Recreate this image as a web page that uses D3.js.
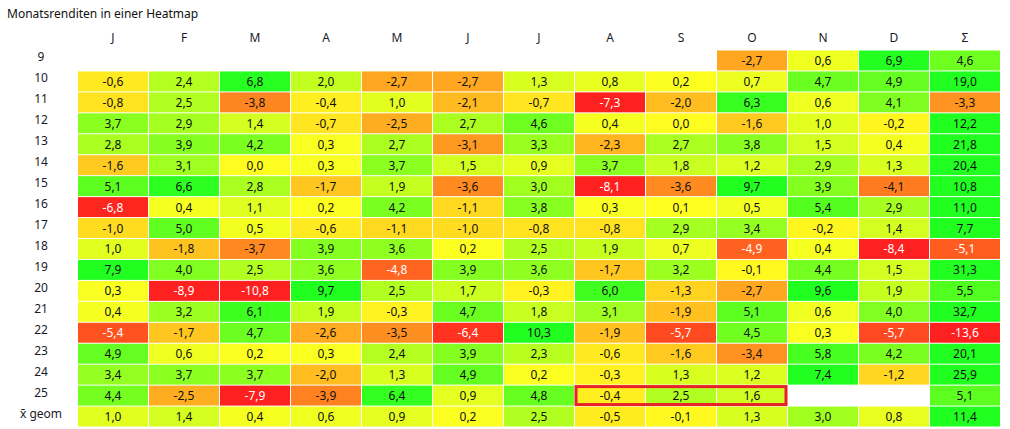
<!DOCTYPE html>
<html>
<head>
  <meta charset="utf-8">
  <title>Monatsrenditen in einer Heatmap</title>
  <script src="https://d3js.org/d3.v7.min.js"></script>
  <style>
    body { margin: 0; background: #fff; }
    svg { font-family: "Segoe UI", "Noto Sans", sans-serif; font-size: 12px; }
    .title { fill: #111; }
    .head, .rowlab { fill: #1a1a2a; text-anchor: middle; }
    .val { text-anchor: middle; }
  </style>
</head>
<body>
  <svg width="1010" height="429"></svg>
  <script>
    const months = ["J", "F", "M", "A", "M", "J", "J", "A", "S", "O", "N", "D", "Σ"];
    const years = ["9", "10", "11", "12", "13", "14", "15", "16", "17", "18", "19", "20", "21", "22", "23", "24", "25"];

    // monthly returns per year, J..D (null = no value)
    const monthly = [
      [null, null, null, null, null, null, null, null, null, -2.7, 0.6, 6.9],
      [-0.6, 2.4, 6.8, 2.0, -2.7, -2.7, 1.3, 0.8, 0.2, 0.7, 4.7, 4.9],
      [-0.8, 2.5, -3.8, -0.4, 1.0, -2.1, -0.7, -7.3, -2.0, 6.3, 0.6, 4.1],
      [3.7, 2.9, 1.4, -0.7, -2.5, 2.7, 4.6, 0.4, 0.0, -1.6, 1.0, -0.2],
      [2.8, 3.9, 4.2, 0.3, 2.7, -3.1, 3.3, -2.3, 2.7, 3.8, 1.5, 0.4],
      [-1.6, 3.1, 0.0, 0.3, 3.7, 1.5, 0.9, 3.7, 1.8, 1.2, 2.9, 1.3],
      [5.1, 6.6, 2.8, -1.7, 1.9, -3.6, 3.0, -8.1, -3.6, 9.7, 3.9, -4.1],
      [-6.8, 0.4, 1.1, 0.2, 4.2, -1.1, 3.8, 0.3, 0.1, 0.5, 5.4, 2.9],
      [-1.0, 5.0, 0.5, -0.6, -1.1, -1.0, -0.8, -0.8, 2.9, 3.4, -0.2, 1.4],
      [1.0, -1.8, -3.7, 3.9, 3.6, 0.2, 2.5, 1.9, 0.7, -4.9, 0.4, -8.4],
      [7.9, 4.0, 2.5, 3.6, -4.8, 3.9, 3.6, -1.7, 3.2, -0.1, 4.4, 1.5],
      [0.3, -8.9, -10.8, 9.7, 2.5, 1.7, -0.3, 6.0, -1.3, -2.7, 9.6, 1.9],
      [0.4, 3.2, 6.1, 1.9, -0.3, 4.7, 1.8, 3.1, -1.9, 5.1, 0.6, 4.0],
      [-5.4, -1.7, 4.7, -2.6, -3.5, -6.4, 10.3, -1.9, -5.7, 4.5, 0.3, -5.7],
      [4.9, 0.6, 0.2, 0.3, 2.4, 3.9, 2.3, -0.6, -1.6, -3.4, 5.8, 4.2],
      [3.4, 3.7, 3.7, -2.0, 1.3, 4.9, 0.2, -0.3, 1.3, 1.2, 7.4, -1.2],
      [4.4, -2.5, -7.9, -3.9, 6.4, 0.9, 4.8, -0.4, 2.5, 1.6, null, null]
    ];
    const yearSum = [4.6, 19.0, -3.3, 12.2, 21.8, 20.4, 10.8, 11.0, 7.7, -5.1, 31.3, 5.5, 32.7, -13.6, 20.1, 25.9, 5.1];

    const geomLabel = "x̄ geom";
    const geomMean = [1.0, 1.4, 0.4, 0.6, 0.9, 0.2, 2.5, -0.5, -0.1, 1.3, 3.0, 0.8, 11.4];

    // last three months of the current year are framed
    const highlight = { row: 16, cols: [7, 8, 9] };

    const svg = d3.select("svg");

    const rowLabels = years.concat([geomLabel]);
    const rows = monthly.map((r, i) => r.concat([yearSum[i]])).concat([geomMean]);

    const cells = [];
    rows.forEach((r, i) => r.forEach((v, j) => {
      if (v !== null) cells.push({ row: i, col: j, value: v });
    }));

    const x = d3.scaleBand().domain(d3.range(months.length)).range([77.5, 1000.5]);
    const y = d3.scaleBand().domain(d3.range(rowLabels.length)).range([50, 427]);

    const color = d3.scaleLinear()
      .domain([-7, 0.1, 7])
      .range(["#ff2020", "#ffff20", "#20ff20"])
      .clamp(true);

    const de = d3.formatLocale({ decimal: ",", thousands: ".", grouping: [3], currency: ["", " €"], minus: "-" });
    const fmt = de.format(".1f");

    svg.append("text")
      .attr("class", "title")
      .attr("x", 7)
      .attr("y", 18)
      .text("Monatsrenditen in einer Heatmap");

    svg.selectAll(".head")
      .data(months)
      .join("text")
      .attr("class", "head")
      .attr("x", (d, i) => x(i) + x.bandwidth() / 2)
      .attr("y", 42)
      .text(d => d);

    svg.selectAll(".rowlab")
      .data(rowLabels)
      .join("text")
      .attr("class", "rowlab")
      .attr("x", 41)
      .attr("y", (d, i) => y(i) + y.bandwidth() / 2 + 1)
      .text(d => d);

    const cell = svg.append("g").selectAll("g")
      .data(cells)
      .join("g");

    cell.append("rect")
      .attr("x", d => x(d.col) + 0.5)
      .attr("y", d => y(d.row) + 0.5)
      .attr("width", x.bandwidth() - 1)
      .attr("height", y.bandwidth() - 1)
      .attr("fill", d => color(d.value));

    cell.append("text")
      .attr("class", "val")
      .attr("x", d => x(d.col) + x.bandwidth() / 2)
      .attr("y", d => y(d.row) + y.bandwidth() / 2 + 4.5)
      .attr("fill", d => d3.rgb(color(d.value)).g < 110 ? "#fff" : "#111")
      .text(d => fmt(d.value));

    const c0 = d3.min(highlight.cols), c1 = d3.max(highlight.cols);
    svg.append("rect")
      .attr("x", x(c0) + 1.5)
      .attr("y", y(highlight.row) + 1.5)
      .attr("width", x(c1) + x.bandwidth() - x(c0) - 3)
      .attr("height", y.bandwidth() - 3)
      .attr("fill", "none")
      .attr("stroke", "#e8202a")
      .attr("stroke-width", 3);
  </script>
</body>
</html>
